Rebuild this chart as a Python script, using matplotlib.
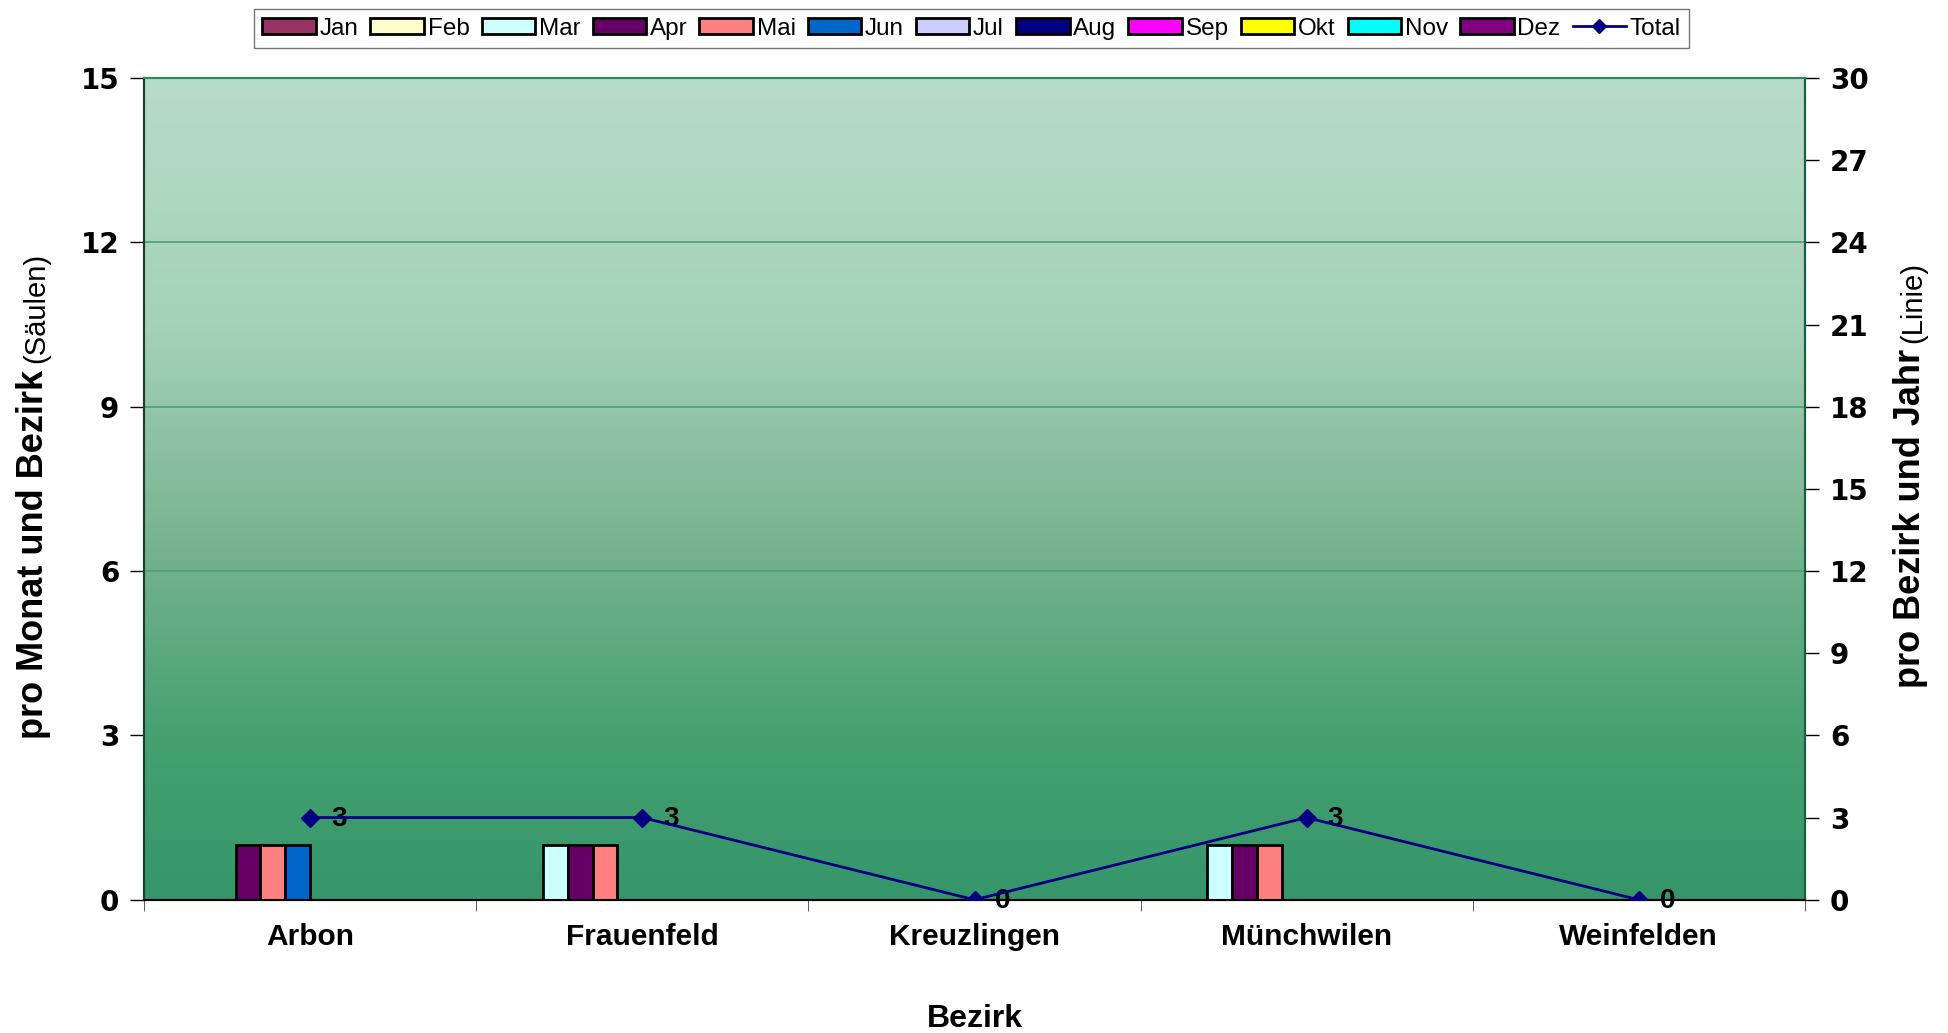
import numpy as np
import matplotlib
matplotlib.use("Agg")
import matplotlib.pyplot as plt
from matplotlib.colors import LinearSegmentedColormap
from matplotlib.patches import Patch
from matplotlib.lines import Line2D

# data
bezirke = ["Arbon", "Frauenfeld", "Kreuzlingen", "Münchwilen", "Weinfelden"]
monate = ["Jan", "Feb", "Mar", "Apr", "Mai", "Jun", "Jul", "Aug", "Sep", "Okt", "Nov", "Dez"]
# rows = months, columns = districts
werte = [
    [0, 0, 0, 0, 0],  # Jan
    [0, 0, 0, 0, 0],  # Feb
    [0, 1, 0, 1, 0],  # Mar
    [1, 1, 0, 1, 0],  # Apr
    [1, 1, 0, 1, 0],  # Mai
    [1, 0, 0, 0, 0],  # Jun
    [0, 0, 0, 0, 0],  # Jul
    [0, 0, 0, 0, 0],  # Aug
    [0, 0, 0, 0, 0],  # Sep
    [0, 0, 0, 0, 0],  # Okt
    [0, 0, 0, 0, 0],  # Nov
    [0, 0, 0, 0, 0],  # Dez
]
total = [3, 3, 0, 3, 0]

farben = ["#993366", "#FFFFCC", "#CCFFFF", "#660066", "#FF8080", "#0066CC",
          "#CCCCFF", "#000080", "#FF00FF", "#FFFF00", "#00FFFF", "#800080"]
linie = "#000080"

arial = ["Liberation Sans", "DejaVu Sans"]

fig = plt.figure(figsize=(19.49, 10.33), dpi=100)
ax = fig.add_axes([0.074, 0.129, 0.852, 0.7955])
ax2 = ax.twinx()

# gradient background
grad = LinearSegmentedColormap.from_list("bg", [
    (0.0, "#35966a"), (0.2, "#46a072"), (0.45, "#7ab593"),
    (0.7, "#a5d1b8"), (1.0, "#b6dcc7")])
ax.imshow(np.linspace(0, 1, 256).reshape(-1, 1), cmap=grad, aspect="auto",
          extent=[0, 1, 0, 1], transform=ax.transAxes, origin="lower", zorder=0)

x = np.arange(len(bezirke))
n = len(monate)
w = 0.9 / n
for i, (m, vals) in enumerate(zip(monate, werte)):
    pos = x - 0.45 + w * (i + 0.5)
    ax.bar(pos, vals, width=w, color=farben[i], edgecolor="black",
           linewidth=2, zorder=3)

ax.set_xlim(-0.5, len(bezirke) - 0.5)
ax.set_ylim(0, 15)
ax.set_yticks(range(0, 16, 3))
ax.yaxis.grid(True, color="#4c9e78", linewidth=1.2, zorder=1)
ax.set_axisbelow(True)
ax.set_xticks(x)
ax.set_xticklabels(bezirke, fontsize=21.5, fontweight="bold", family=arial)
ax.set_xticks(np.arange(-0.5, len(bezirke)), minor=True)
ax.tick_params(axis="x", which="major", length=0, pad=17)
ax.tick_params(axis="x", which="minor", length=8, direction="out", color="#404040")
ax.tick_params(axis="y", length=10, width=1, direction="out", pad=8)
for lab in ax.get_yticklabels():
    lab.set_fontsize(20)
    lab.set_fontweight("bold")
    lab.set_family("DejaVu Sans")

ax2.plot(x, total, color=linie, linewidth=2, marker="D", markersize=9, zorder=5)
for xi, t in zip(x, total):
    ax2.annotate(str(t), (xi, t), xytext=(15, -1), textcoords="offset points",
                 va="center", ha="left", fontsize=20, fontweight="bold", family=arial)
ax2.set_ylim(0, 30)
ax2.set_yticks(range(0, 31, 3))
ax2.tick_params(axis="y", length=10, width=1, direction="out", pad=8)
for lab in ax2.get_yticklabels():
    lab.set_fontsize(20)
    lab.set_fontweight("bold")
    lab.set_family("DejaVu Sans")

for a in (ax, ax2):
    a.spines["top"].set_color("#2e8b57")
    a.spines["left"].set_color("#1f3d2e")
    a.spines["right"].set_color("#1f5c3e")
    a.spines["bottom"].set_color("black")
    for s in a.spines.values():
        s.set_linewidth(1.5)

ax.set_xlabel("Bezirk", fontsize=23, fontweight="bold", family=arial, labelpad=38)

# y axis labels with bold + normal part
fig.canvas.draw()
r = fig.canvas.get_renderer()

def ylabel(xf, yc, bold, norm):
    t1 = fig.text(xf, 0, bold, rotation=90, fontsize=26, fontweight="bold",
                  family=arial, ha="center", va="bottom")
    t2 = fig.text(xf, 0, norm, rotation=90, fontsize=21, family=arial,
                  ha="center", va="bottom")
    h1 = t1.get_window_extent(r).height / fig.bbox.height
    h2 = t2.get_window_extent(r).height / fig.bbox.height
    gap = 0.006
    y0 = yc - (h1 + h2 + gap) / 2
    t1.set_position((xf, y0))
    t2.set_position((xf + 0.0015, y0 + h1 + gap))

ylabel(0.017, 0.52, "pro Monat und Bezirk", "(Säulen)")
ylabel(0.980, 0.54, "pro Bezirk und Jahr", "(Linie)")

# legend
handles = [Patch(facecolor=c, edgecolor="black", linewidth=2) for c in farben]
handles.append(Line2D([], [], color=linie, marker="D", markersize=7, linewidth=2))
fig.legend(handles, monate + ["Total"], loc="upper center", ncol=13,
           bbox_to_anchor=(0.4985, 1.003), frameon=True, fancybox=False,
           edgecolor="#555555", prop={"family": arial, "size": 17.5},
           handlelength=2.2, handleheight=0.6, handletextpad=0.15,
           columnspacing=0.5, borderpad=0.35)

fig.savefig("out.png", dpi=100)
